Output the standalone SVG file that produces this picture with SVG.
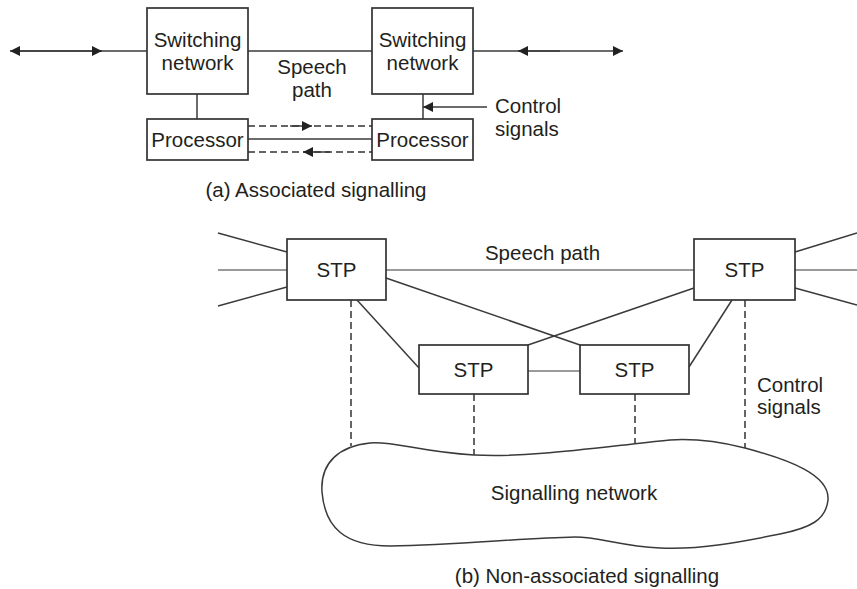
<svg xmlns="http://www.w3.org/2000/svg" width="857" height="589" viewBox="0 0 857 589">
  <style>
    .box { fill: #ffffff; stroke: #333333; stroke-width: 1.7; }
    .ln { fill: none; stroke: #3a3a3a; stroke-width: 1.5; }
    .gray { fill: none; stroke: #9a9a9a; stroke-width: 1.8; }
    .dash { fill: none; stroke: #333333; stroke-width: 1.5; stroke-dasharray: 7 4; }
    .cloud { fill: #ffffff; stroke: #3a3a3a; stroke-width: 1.5; }
    text { font-family: "Liberation Sans", Arial, sans-serif; font-size: 20.5px; fill: #231f20; }
    .mid { text-anchor: middle; }
  </style>
  <defs>
    <marker id="ah" viewBox="0 0 10 10" refX="10" refY="5" markerWidth="10" markerHeight="10" markerUnits="userSpaceOnUse" orient="auto">
      <path d="M0,0 L10,5 L0,10 Z" fill="#222222"/>
    </marker>
  </defs>

  <!-- (a) associated signalling: connectors -->
  <g id="connectors-a">
    <line class="ln" x1="147" y1="51" x2="10" y2="51" marker-end="url(#ah)"/>
    <line class="ln" x1="20" y1="51" x2="102" y2="51" marker-end="url(#ah)"/>
    <line class="ln" x1="248" y1="51" x2="372" y2="51"/>
    <line class="ln" x1="473" y1="51" x2="623" y2="51" marker-end="url(#ah)"/>
    <line class="ln" x1="560" y1="51" x2="518" y2="51" marker-end="url(#ah)"/>
    <line class="ln" x1="197" y1="94" x2="197" y2="119"/>
    <line class="ln" x1="423" y1="94" x2="423" y2="119"/>
    <line class="ln" x1="487" y1="107" x2="423" y2="107" marker-end="url(#ah)"/>
    <line class="dash" x1="248" y1="126" x2="372" y2="126"/>
    <line class="ln" x1="290" y1="126" x2="312" y2="126" stroke="none" marker-end="url(#ah)"/>
    <line class="ln" x1="248" y1="139" x2="372" y2="139"/>
    <line class="dash" x1="248" y1="152" x2="372" y2="152"/>
    <line class="ln" x1="330" y1="152" x2="303" y2="152" stroke="none" marker-end="url(#ah)"/>
  </g>

  <g id="switch-left">
    <rect class="box" x="147" y="8" width="101" height="86"/>
    <text class="mid" x="197.5" y="47">Switching</text>
    <text class="mid" x="197.5" y="70">network</text>
  </g>
  <g id="switch-right">
    <rect class="box" x="372" y="8" width="101" height="86"/>
    <text class="mid" x="422.5" y="47">Switching</text>
    <text class="mid" x="422.5" y="70">network</text>
  </g>
  <g id="proc-left">
    <rect class="box" x="147" y="119" width="101" height="41"/>
    <text class="mid" x="197.5" y="147">Processor</text>
  </g>
  <g id="proc-right">
    <rect class="box" x="372" y="119" width="101" height="41"/>
    <text class="mid" x="422.5" y="147">Processor</text>
  </g>

  <g id="labels-a">
    <text class="mid" x="312" y="74">Speech</text>
    <text class="mid" x="312" y="97">path</text>
    <text x="495" y="113">Control</text>
    <text x="495" y="136">signals</text>
    <text class="mid" x="316" y="197">(a) Associated signalling</text>
  </g>

  <!-- (b) non-associated signalling: connectors -->
  <g id="connectors-b">
    <line class="gray" x1="218" y1="270" x2="287" y2="270"/>
    <line class="gray" x1="386" y1="270" x2="694" y2="270"/>
    <line class="gray" x1="795" y1="270" x2="857" y2="270"/>
    <line class="gray" x1="528" y1="371" x2="580" y2="371"/>
    <line class="ln" x1="218" y1="233" x2="287" y2="252"/>
    <line class="ln" x1="218" y1="306" x2="287" y2="287"/>
    <line class="ln" x1="795" y1="252" x2="857" y2="233"/>
    <line class="ln" x1="795" y1="288" x2="857" y2="305"/>
    <line class="ln" x1="386" y1="278" x2="580" y2="345"/>
    <line class="ln" x1="528" y1="345" x2="694" y2="288"/>
    <line class="ln" x1="357" y1="300" x2="419" y2="368"/>
    <line class="ln" x1="732" y1="300" x2="689" y2="367"/>
    <line class="dash" x1="351" y1="300" x2="351" y2="446"/>
    <line class="dash" x1="474" y1="394" x2="474" y2="455"/>
    <line class="dash" x1="635" y1="394" x2="635" y2="443"/>
    <line class="dash" x1="745" y1="300" x2="745" y2="448"/>
  </g>

  <g id="stp-1">
    <rect class="box" x="287" y="239" width="99" height="61"/>
    <text class="mid" x="336.5" y="277">STP</text>
  </g>
  <g id="stp-2">
    <rect class="box" x="694" y="239" width="101" height="61"/>
    <text class="mid" x="744.5" y="277">STP</text>
  </g>
  <g id="stp-3">
    <rect class="box" x="419" y="345" width="109" height="49"/>
    <text class="mid" x="473.5" y="377">STP</text>
  </g>
  <g id="stp-4">
    <rect class="box" x="580" y="345" width="109" height="49"/>
    <text class="mid" x="634.5" y="377">STP</text>
  </g>

  <g id="signalling-network">
    <path class="cloud" d="M322,492 C320,462 340,446 370,443 C395,441 420,452 474,455 C530,458 600,447 670,440 C700,438 725,443 745,448 C790,460 830,475 828,500 C826,520 810,528 780,534 C740,542 700,550 660,548 C620,546 600,537 575,537 C520,538 460,545 390,546 C345,546 325,528 322,492 Z"/>
    <text class="mid" x="574" y="500">Signalling network</text>
  </g>

  <g id="labels-b">
    <text class="mid" x="542.5" y="260">Speech path</text>
    <text x="757" y="392">Control</text>
    <text x="757" y="414">signals</text>
    <text class="mid" x="587" y="583">(b) Non-associated signalling</text>
  </g>
</svg>
